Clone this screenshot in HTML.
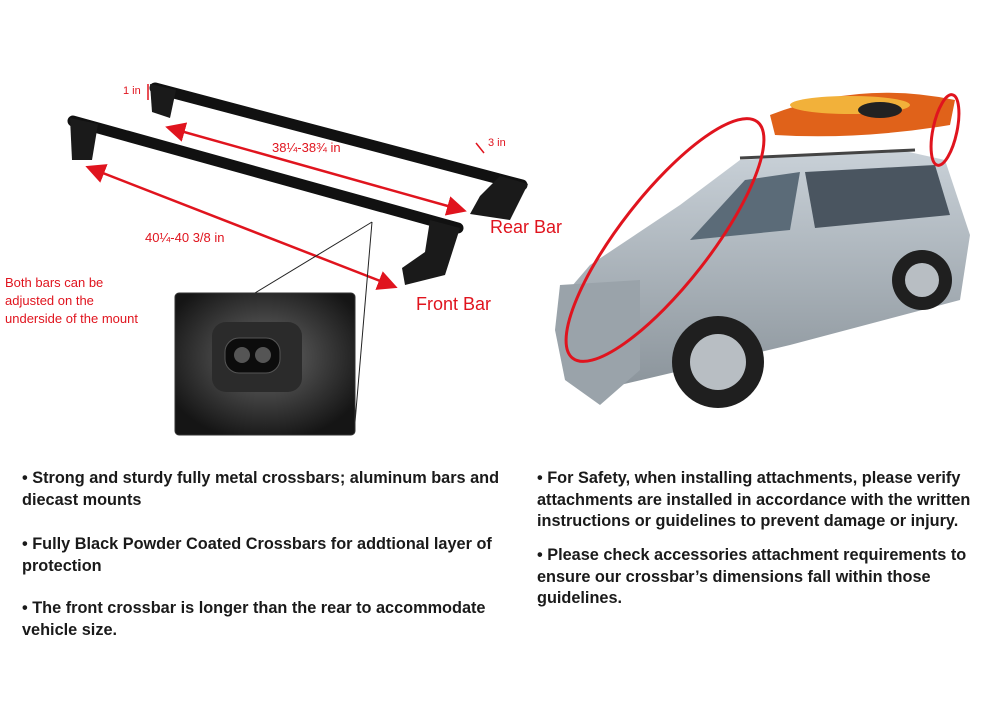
<!DOCTYPE html>
<html><head><meta charset="utf-8"><style>
html,body{margin:0;padding:0;background:#fff;}
body{width:1000px;height:714px;position:relative;overflow:hidden;font-family:"Liberation Sans",sans-serif;}
.t{position:absolute;font-weight:bold;font-size:16.3px;color:#1a1a1a;line-height:21.5px;white-space:nowrap;}
.r{position:absolute;color:#e0141e;font-family:"Liberation Sans",sans-serif;}
</style></head><body>
<svg width="1000" height="714" style="position:absolute;left:0;top:0">
<defs>
<marker id="a" markerWidth="8" markerHeight="8" refX="6" refY="4" orient="auto"><path d="M0,0 L8,4 L0,8z" fill="#e0141e"/></marker>
<marker id="b" markerWidth="8" markerHeight="8" refX="2" refY="4" orient="auto"><path d="M8,0 L0,4 L8,8z" fill="#e0141e"/></marker>
<radialGradient id="g" cx="50%" cy="45%" r="60%"><stop offset="0" stop-color="#6a6a6a"/><stop offset="1" stop-color="#151515"/></radialGradient>
<linearGradient id="car" x1="0" y1="0" x2="0" y2="1"><stop offset="0" stop-color="#c9d1d8"/><stop offset="1" stop-color="#8c959c"/></linearGradient>
</defs>
<line x1="155" y1="88" x2="522" y2="185" stroke="#111" stroke-width="11" stroke-linecap="round"/>
<path d="M150,84 L176,90 L170,118 L152,112z" fill="#1a1a1a"/>
<path d="M500,176 L528,184 L510,220 L470,214 L480,196z" fill="#1a1a1a"/>
<line x1="73" y1="121" x2="458" y2="228" stroke="#111" stroke-width="11" stroke-linecap="round"/>
<path d="M70,118 L98,124 L92,160 L72,160z" fill="#1a1a1a"/>
<path d="M430,220 L460,228 L445,275 L405,285 L402,268 L425,252z" fill="#1a1a1a"/>
<line x1="170" y1="128" x2="462" y2="210" stroke="#e0141e" stroke-width="2.5" marker-end="url(#a)" marker-start="url(#b)"/>
<line x1="90" y1="168" x2="393" y2="286" stroke="#e0141e" stroke-width="2.5" marker-end="url(#a)" marker-start="url(#b)"/>
<line x1="148" y1="84" x2="148" y2="100" stroke="#e0141e" stroke-width="1.5"/>
<line x1="476" y1="143" x2="484" y2="153" stroke="#e0141e" stroke-width="1.5"/>
<line x1="372" y1="222" x2="250" y2="296" stroke="#222" stroke-width="1"/>
<line x1="372" y1="222" x2="354" y2="434" stroke="#222" stroke-width="1"/>
<rect x="175" y="293" width="180" height="142" rx="4" fill="url(#g)" stroke="#333"/>
<rect x="212" y="322" width="90" height="70" rx="14" fill="#2b2b2b"/>
<rect x="225" y="338" width="55" height="35" rx="14" fill="#0c0c0c" stroke="#555"/>
<circle cx="242" cy="355" r="8" fill="#555"/><circle cx="263" cy="355" r="8" fill="#555"/>
<!-- car -->
<path d="M770,115 Q860,80 955,100 L950,125 Q860,140 775,135 Z" fill="#e0621a"/>
<ellipse cx="850" cy="105" rx="60" ry="9" fill="#f2b13a"/>
<ellipse cx="880" cy="110" rx="22" ry="8" fill="#222"/>
<path d="M590,265 L680,205 L740,160 L900,150 L945,160 L970,235 L960,300 L790,345 L620,385 L570,350 L560,300 Z" fill="url(#car)"/>
<line x1="740" y1="158" x2="915" y2="150" stroke="#444" stroke-width="3"/>
<path d="M690,240 L745,180 L800,172 L790,230 Z" fill="#5b6b78"/>
<path d="M805,172 L935,165 L950,215 L815,228 Z" fill="#4a5560"/>
<path d="M560,285 L640,280 L640,370 L600,405 L565,380 L555,330Z" fill="#9aa3aa"/>
<circle cx="718" cy="362" r="46" fill="#1f1f1f"/><circle cx="718" cy="362" r="28" fill="#b8bec3"/>
<circle cx="922" cy="280" r="30" fill="#1f1f1f"/><circle cx="922" cy="280" r="17" fill="#b8bec3"/>
<ellipse cx="665" cy="240" rx="45" ry="150" transform="rotate(38 665 240)" fill="none" stroke="#e0141e" stroke-width="3"/>
<ellipse cx="945" cy="130" rx="12" ry="36" transform="rotate(12 945 130)" fill="none" stroke="#e0141e" stroke-width="3"/>
</svg>
<div class="r" style="left:123px;top:85px;font-size:11px">1 in</div>
<div class="r" style="left:272px;top:140px;font-size:13px">38¼-38¾ in</div>
<div class="r" style="left:488px;top:137px;font-size:11px">3 in</div>
<div class="r" style="left:490px;top:217px;font-size:18px">Rear Bar</div>
<div class="r" style="left:145px;top:230px;font-size:13px">40¼-40 3/8 in</div>
<div class="r" style="left:416px;top:294px;font-size:18px">Front Bar</div>
<div class="r" style="left:5px;top:274px;font-size:13px;line-height:18px">Both bars can be<br>adjusted on the<br>underside of the mount</div>
<div class="t" style="left:22px;top:468px">• Strong and sturdy fully metal crossbars; aluminum bars and<br>diecast mounts</div>
<div class="t" style="left:22px;top:534px">• Fully Black Powder Coated Crossbars for addtional layer of<br>protection</div>
<div class="t" style="left:22px;top:598px">• The front crossbar is longer than the rear to accommodate<br>vehicle size.</div>
<div class="t" style="left:537px;top:468px">• For Safety, when installing attachments, please verify<br>attachments are installed in accordance with the written<br>instructions or guidelines to prevent damage or injury.</div>
<div class="t" style="left:537px;top:545px">• Please check accessories attachment requirements to<br>ensure our crossbar’s dimensions fall within those<br>guidelines.</div>
</body></html>
